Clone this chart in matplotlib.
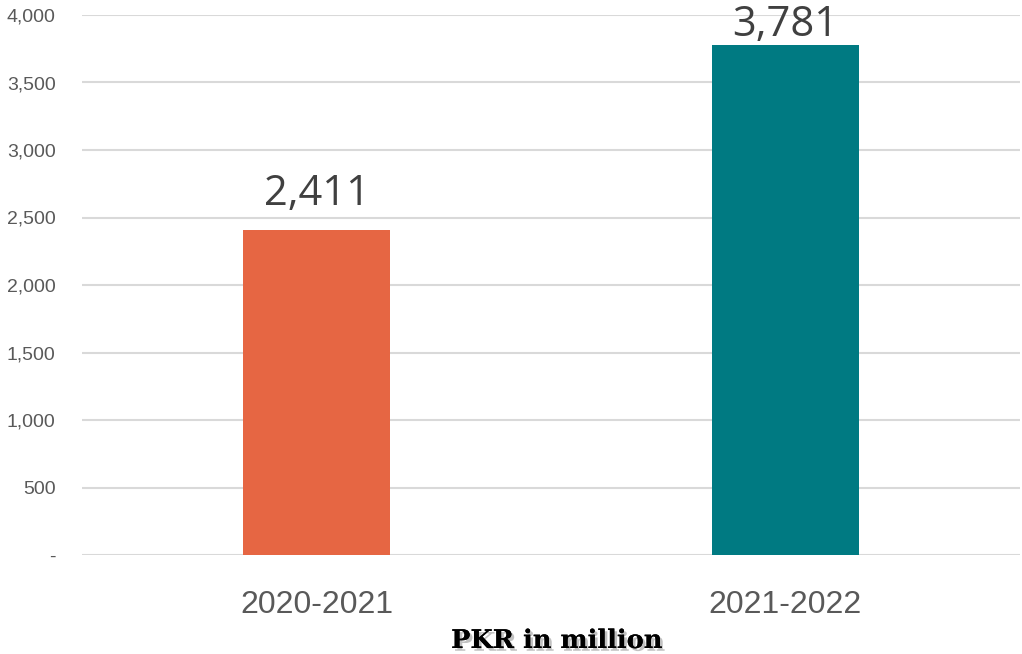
import matplotlib
matplotlib.use("Agg")
import matplotlib.pyplot as plt
import matplotlib.patheffects as pe
from matplotlib.ticker import FuncFormatter

categories = ["2020-2021", "2021-2022"]
values = [2411, 3781]
colors = ["#E66643", "#007A82"]
yticks = [0, 500, 1000, 1500, 2000, 2500, 3000, 3500, 4000]
label_offsets_pt = [18, 6.5]

fig = plt.figure(figsize=(10.22, 6.54), dpi=100)
ax = fig.add_axes([82/1022, 99/654, 938/1022, 540/654])

x = list(range(len(categories)))
ax.bar(x, values, width=0.313, color=colors, zorder=3)
ax.set_xlim(-0.5, 1.5)
ax.set_ylim(0, 4000)
ax.set_yticks(yticks)
ax.yaxis.set_major_formatter(FuncFormatter(lambda v, p: "-" if v == 0 else f"{int(v):,}"))
ax.grid(axis="y", color="#D9D9D9", linewidth=1.5, zorder=0)
for s in ax.spines.values():
    s.set_visible(False)
ax.tick_params(axis="both", length=0)
ax.tick_params(axis="y", labelsize=14, labelcolor="#595959", pad=19)
ax.set_xticks(x)
ax.set_xticklabels(categories, fontsize=23, color="#595959", family=["Liberation Sans", "DejaVu Sans"])
for lbl in ax.get_yticklabels():
    lbl.set_family(["Liberation Sans", "DejaVu Sans"])
ax.tick_params(axis="x", pad=25)

for xi, v, off in zip(x, values, label_offsets_pt):
    ax.annotate(f"{v:,}", xy=(xi, v), xytext=(0, off), textcoords="offset points",
                ha="center", va="baseline", fontsize=30,
                color="#404040", family=["Open Sans", "DejaVu Sans"], annotation_clip=False)

fig.text(557/1022, 6/654, "PKR in million", ha="center", va="baseline",
         fontsize=18.5, fontweight="bold", family=["DejaVu Serif"], color="black",
         path_effects=[pe.withSimplePatchShadow(offset=(2, -2), shadow_rgbFace="#777777", alpha=0.45), pe.Normal()])

fig.savefig("out.png", dpi=100)
